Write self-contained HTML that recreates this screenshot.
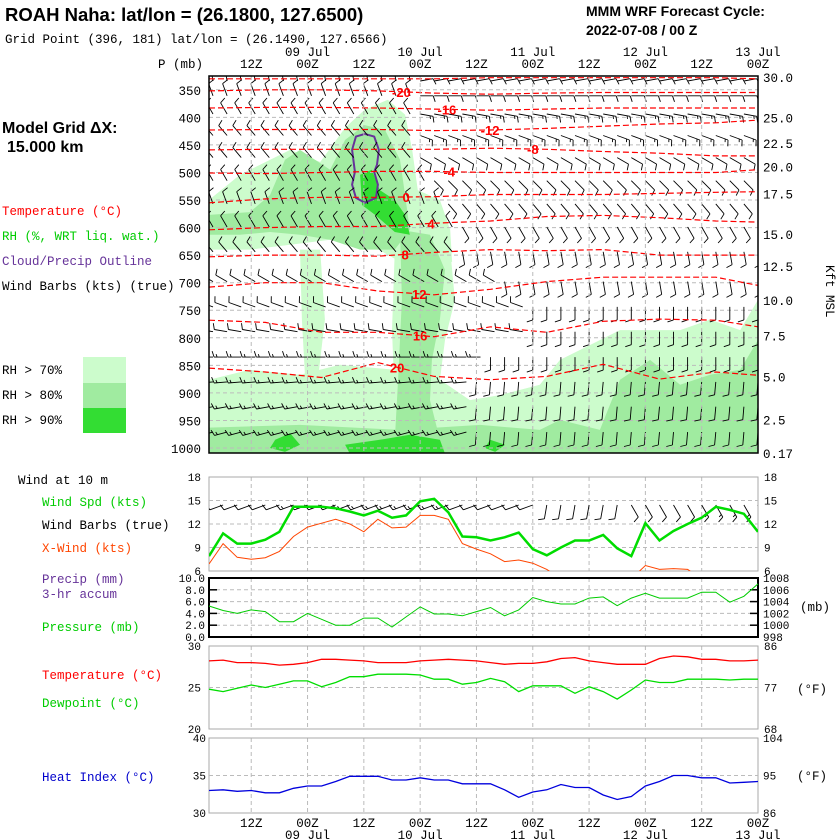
<!DOCTYPE html>
<html><head><meta charset="utf-8">
<style>
html,body{margin:0;padding:0;background:#fff;}
svg{display:block;}
.m{font-family:"Liberation Mono",monospace;font-size:12.5px;}
.s{font-family:"Liberation Sans",sans-serif;}
</style></head>
<body>
<svg id="chart" width="840" height="840" viewBox="0 0 840 840" xmlns="http://www.w3.org/2000/svg">
<rect width="840" height="840" fill="#fff"/>
<text class="s" x="5" y="21" font-size="18.5" font-weight="bold">ROAH Naha:  lat/lon = (26.1800, 127.6500)</text>
<text class="m" x="5" y="43" font-size="12.5">Grid Point (396, 181) lat/lon = (26.1490, 127.6566)</text>
<text class="s" x="586" y="16" font-size="14" font-weight="bold">MMM WRF Forecast Cycle:</text>
<text class="s" x="586" y="35" font-size="14" font-weight="bold">2022-07-08 / 00  Z</text>
<text class="s" x="2" y="133" font-size="16" font-weight="bold">Model Grid ΔX:</text>
<text class="s" x="7" y="152" font-size="16" font-weight="bold">15.000 km</text>
<text class="m" x="2" y="215" fill="#ff0000">Temperature (°C)</text>
<text class="m" x="2" y="240" fill="#00cc00">RH (%, WRT liq. wat.)</text>
<text class="m" x="2" y="265" fill="#663399">Cloud/Precip Outline</text>
<text class="m" x="2" y="290" fill="#000">Wind Barbs (kts) (true)</text>
<text class="m" x="2" y="374">RH &gt; 70%</text>
<text class="m" x="2" y="399">RH &gt; 80%</text>
<text class="m" x="2" y="424">RH &gt; 90%</text>
<rect x="83" y="357" width="43" height="26" fill="#ccfccc"/>
<rect x="83" y="383" width="43" height="25" fill="#a0eba0"/>
<rect x="83" y="408" width="43" height="25" fill="#33dd33"/>
<text class="m" x="158" y="68" font-size="12">P (mb)</text>
<text class="m" x="826" y="265" font-size="11" transform="rotate(90 826 265)">Kft MSL</text>

<text class="m" x="18" y="484" font-size="9.5">Wind at 10 m</text>
<text class="m" x="42" y="506" fill="#00cc00">Wind Spd (kts)</text>
<text class="m" x="42" y="529">Wind Barbs (true)</text>
<text class="m" x="42" y="552" fill="#ff4500">X-Wind (kts)</text>
<text class="m" x="42" y="583" fill="#663399">Precip (mm)</text>
<text class="m" x="42" y="598" fill="#663399">3-hr accum</text>
<text class="m" x="42" y="631" fill="#00cc00">Pressure (mb)</text>
<text class="m" x="42" y="679" fill="#ff0000">Temperature (°C)</text>
<text class="m" x="42" y="707" fill="#00cc00">Dewpoint (°C)</text>
<text class="m" x="42" y="781" fill="#0000cc">Heat Index (°C)</text>
<text class="m" x="800" y="611">(mb)</text>
<text class="m" x="797" y="693">(°F)</text>
<text class="m" x="797" y="780">(°F)</text>
<g id="g"></g>
</svg>
<script>
// ---------- DATA ----------
const hours = [0,3,6,9,12,15,18,21,24,27,30,33,36,39,42,45,48,51,54,57,60,63,66,69,72,75,78,81,84,87,90,93,96,99,102,105,108,111,114,117];
const tickHours = [9,21,33,45,57,69,81,93,105,117];
const tickLabels = ["12Z","00Z","12Z","00Z","12Z","00Z","12Z","00Z","12Z","00Z"];
const dateHours = [21,45,69,93,117];
const dateLabels = ["09 Jul","10 Jul","11 Jul","12 Jul","13 Jul"];
const pLevels = [350,400,450,500,550,600,650,700,750,800,850,900,950,1000];
const kftLabels = ["30.0","25.0","22.5","20.0","17.5","15.0","12.5","10.0","7.5","5.0","2.5","0.17"];
const kftPress = [327,400,447,489,538,612,670,731,796,870,948,1009];

const windSpd = [7.9,10.8,9.5,9.5,10,11,14.2,14.2,14.2,14,13.6,13.1,13.7,12.8,13.1,14.9,15.2,13.5,10.4,10.3,9.9,10.3,10.9,8.8,8,9,9.9,9.9,10.6,8.9,7.9,12.1,9.9,11.1,12,12.8,14.2,13.8,13.3,11];
const crossWind = [6.9,9.5,7.75,7.5,7.7,8.5,10.4,11.6,12.1,12.6,12,11,12.6,11.5,11.6,13.1,13.1,12.6,9.5,8.8,8.2,7.2,7.4,7.0,6.2,5,4.5,4,4,4,5,6.7,6.2,6.3,6.2,5,4,4.5,4,4];
const sfcDir = [250,250,250,250,250,250,250,250,250,250,250,250,250,250,250,250,250,250,250,250,250,250,250,250,190,190,190,190,190,190,150,150,150,150,150,150,150,150,150,150];
const slp = [1003.25,1002.5,1002.0,1002.6,1002.3,1000.6,1000.6,1002.0,1001.0,1000.0,1000.0,1001.2,1001.2,999.7,1001.4,1003.1,1001.9,1001.9,1001.6,1002.3,1003.0,1001.6,1002.6,1004.7,1004.0,1003.6,1003.6,1004.6,1004.8,1003.3,1004.6,1005.4,1004.6,1004.6,1004.6,1005.6,1005.6,1003.9,1004.9,1007.0];
const tempC = [28.2,28.3,28.0,28.0,27.9,27.7,27.8,28.0,28.4,28.4,28.3,28.2,28.0,28.0,28.0,28.2,28.3,28.4,28.3,28.2,28.0,27.8,27.9,27.9,28.1,28.5,28.6,28.2,28.0,27.8,27.8,27.8,28.5,28.8,28.7,28.4,28.4,28.2,28.2,28.3];
const dewC = [24.8,24.5,24.9,25.3,25.0,25.4,25.8,25.8,25.1,25.6,26.3,26.3,26.6,26.6,26.6,26.5,26.0,26.0,25.4,25.6,26.1,25.7,24.5,25.2,25.2,25.2,24.3,25.1,24.5,23.6,24.7,25.9,25.6,25.6,26.0,26.0,26.0,25.9,26.0,26.0];
const heatIdx = [33.0,33.1,32.9,33.0,32.7,32.7,33.3,33.6,33.6,34.2,34.9,34.9,34.9,34.4,34.4,34.7,34.4,34.4,33.9,33.9,33.9,33.1,32.1,32.8,33.1,33.8,33.4,33.4,32.4,31.8,32.2,33.6,34.2,35.0,35.0,34.7,34.7,34.0,34.1,34.2];

// isotherms (deg C) : pressure at anchor hours
const isoHours = [0,12,24,36,48,60,72,84,96,108,117];
const isoValues = [-24,-20,-16,-12,-8,-4,0,4,8,12,16,20];
const isoP = [
 [330,330,330,330,330,328,328,328,328,328,330],
 [352,350,350,352,356,358,356,355,355,355,355],
 [383,382,382,383,385,387,385,383,383,383,383],
 [423,422,422,422,424,423,420,416,412,410,405],
 [459,458,458,458,458,456,458,462,465,470,470],
 [501,502,500,498,498,500,500,500,500,500,495],
 [555,548,545,545,544,540,540,540,538,536,535],
 [604,600,598,598,592,588,580,578,582,588,590],
 [653,650,650,652,645,640,642,640,650,650,650],
 [708,700,700,715,722,712,698,690,690,690,705],
 [768,772,790,790,798,780,790,770,766,768,780],
 [855,862,872,845,870,876,870,848,875,862,868]];
const isoLabelH = [null,41,50.7,59.9,69,51.2,42,47.3,41.8,44.8,45,40.1];

// RH regions [hour, pressure]
const rh70 = [
 [[0,550],[6.6,504],[17.3,459],[23.7,481],[29,419],[33.2,386],[38.1,368],[41.8,395],[43.3,459],[44.5,532],[49.2,550],[51.4,604],[51.8,662],[48.2,677],[40.7,662],[34.3,631],[25.8,622],[17.3,631],[8.7,640],[0,640]],
 [[39.6,640],[51.4,640],[52.4,731],[50.3,804],[49.2,876],[51.4,913],[39.6,913],[39,786]],
 [[19.4,640],[23.7,640],[24.7,767],[23.2,876],[20.5,876],[19.8,767]],
 [[0,876],[8.7,858],[19.4,867],[27.9,849],[39.6,858],[49.2,876],[55.6,913],[62,904],[70.5,885],[74.8,840],[81.2,813],[87.6,786],[94,786],[100.4,786],[106.8,767],[113.2,786],[117,731],[117,1010],[0,1010]]];
const rh80 = [
 [[0,577],[8.7,572],[13,541],[16.2,477],[19.4,459],[25.8,495],[29,441],[33.2,414],[37.5,423],[40.7,477],[41.8,541],[42.8,604],[39.6,640],[32.2,640],[25.8,622],[19.4,613],[13,608],[6.6,613],[0,613]],
 [[40.7,604],[47.1,613],[50.3,677],[49.2,767],[47.5,840],[47.1,913],[49.2,985],[39.6,985],[40.3,876],[41.1,731]],
 [[0,963],[19.4,958],[40.7,967],[57.8,958],[70.5,967],[74.8,949],[83.3,967],[87.6,876],[94,840],[100.4,885],[106.8,867],[113.2,858],[117,804],[117,1010],[0,1010]]];
const rh90 = [
 [[32.2,504],[34.7,495],[36.4,532],[39.6,550],[41.8,577],[42.8,613],[39.6,608],[35.4,577],[32.6,559]],
 [[14.1,985],[17.3,973],[19.4,994],[16.2,1007],[13,1000]],
 [[29,994],[36.4,985],[42.8,976],[49.2,985],[50.3,1010],[30,1010]],
 [[59.9,985],[63.1,994],[61,1007],[58.8,1000]]];
const cloudOutline = [[33.2,430],[35.2,435],[36.2,459],[35.8,486],[35.2,499],[36,522],[35.6,546],[33.2,555],[31.3,546],[30.5,522],[31.1,499],[30.9,486],[30.5,459],[31.3,435]];

// upper-air wind barbs by row
const barbP = [334,361,394,433,473,515,557,599,644,698,744,789,835,880,925,971];
const dirLeft = [350,340,330,320,320,330,340,330,320,300,290,280,270,265,260,255];
const spdLeft = [10,10,10,10,10,10,10,10,10,10,10,10,15,15,15,15];
const dirRight = [80,90,100,110,120,135,140,150,170,170,180,180,180,185,185,185];
const spdRight = [10,10,15,15,10,10,10,10,10,10,10,10,10,10,10,10];
const transH = [45,45,45,45,45,48,50,52,53,62,68,68,58,57,57,57];

// ---------- SCALES ----------
const X0=209, X1=758;
const xOf = h => X0 + h*(X1-X0)/117;
const pY = p => 76 + (p-325)*(377/684);
const wY = v => 477 + (18-v)*(94/12);
const slpY = p => 578 + (1008-p)*(59/10);
const tY = t => 646 + (30-t)*8.3;
const hiY = v => 738 + (40-v)*7.5;

const NS="http://www.w3.org/2000/svg";
const G=document.getElementById('g');
function mk(tag, attrs, parent){const e=document.createElementNS(NS,tag);for(const k in attrs)e.setAttribute(k,attrs[k]);(parent||G).appendChild(e);return e;}
function txt(x,y,s,anchor,size,fill){const e=mk('text',{x:x,y:y,'text-anchor':anchor||'start','font-family':'"Liberation Mono",monospace','font-size':size||12,fill:fill||'#000'});e.textContent=s;return e;}

const defs=mk('defs',{});
const cp=mk('clipPath',{id:'mainclip'},defs);
mk('rect',{x:X0,y:76,width:X1-X0,height:377},cp);
const cp2=mk('clipPath',{id:'windclip'},defs);
mk('rect',{x:X0,y:477,width:X1-X0,height:94},cp2);

const mainG=mk('g',{'clip-path':'url(#mainclip)'});



function polyPts(arr){return arr.map(q=>xOf(q[0]).toFixed(1)+','+pY(q[1]).toFixed(1)).join(' ');}
rh70.forEach(poly=>{const e=mk('polygon',{points:polyPts(poly),fill:'#ccfccc'},mainG);

});
rh80.forEach(poly=>{const e=mk('polygon',{points:polyPts(poly),fill:'#a0eba0'},mainG);

});
rh90.forEach(poly=>{const e=mk('polygon',{points:polyPts(poly),fill:'#33dd33'},mainG);

});

pLevels.forEach(p=>{const e=mk('line',{x1:X0,x2:X1,y1:pY(p),y2:pY(p),stroke:'#bbb','stroke-dasharray':'4,3'},mainG);

});
tickHours.forEach(h=>{[[76,453],[477,571],[578,637],[646,729],[738,813]].forEach(r=>{const e=mk('line',{x1:xOf(h),x2:xOf(h),y1:r[0],y2:r[1],stroke:'#bbb','stroke-dasharray':'4,3'});

});});

const co=mk('polygon',{points:polyPts(cloudOutline),fill:'none',stroke:'#663399','stroke-width':2,'stroke-linejoin':'round'},mainG);



function barb(parent,x,y,dir,spd,L){
  const r=dir*Math.PI/180, dx=Math.sin(r), dy=-Math.cos(r);
  const bx=Math.cos(r), by=Math.sin(r);
  const ex=x+L*dx, ey=y+L*dy;
  let d='M'+x.toFixed(1)+' '+y.toFixed(1)+'L'+ex.toFixed(1)+' '+ey.toFixed(1);
  let s=Math.round(spd/5)*5, pos=0;
  while(s>=10){const sx=ex-pos*dx, sy=ey-pos*dy;
    d+='M'+sx.toFixed(1)+' '+sy.toFixed(1)+'L'+(sx+6*bx+2*dx).toFixed(1)+' '+(sy+6*by+2*dy).toFixed(1);
    s-=10;pos+=3;}
  if(s>=5){if(pos===0)pos=3;const sx=ex-pos*dx, sy=ey-pos*dy;
    d+='M'+sx.toFixed(1)+' '+sy.toFixed(1)+'L'+(sx+3*bx+1*dx).toFixed(1)+' '+(sy+3*by+1*dy).toFixed(1);}
  return mk('path',{d:d,stroke:'#000','stroke-width':0.9,fill:'none'},parent);
}
barbP.forEach((p,k)=>{hours.forEach(h=>{
  const left=h<transH[k];
  const e=barb(mainG,xOf(h)+(left?4:0),pY(p),left?dirLeft[k]:dirRight[k],left?spdLeft[k]:spdRight[k],13);
  
  
});});

function isoInterp(k,h){for(let i=0;i<isoHours.length-1;i++){if(h<=isoHours[i+1]){const f=(h-isoHours[i])/(isoHours[i+1]-isoHours[i]);return isoP[k][i]+f*(isoP[k][i+1]-isoP[k][i]);}}return isoP[k][isoP[k].length-1];}
isoP.forEach((row,k)=>{
  const pts=row.map((p,i)=>xOf(isoHours[i]).toFixed(1)+','+pY(p).toFixed(1)).join(' ');
  const e=mk('polyline',{points:pts,fill:'none',stroke:'#ff0000','stroke-dasharray':'6,3','stroke-width':1.2},mainG);
  
  
  if(isoLabelH[k]!==null){
    const h=isoLabelH[k];
    const t=txt(xOf(h),pY(isoInterp(k,h))+5,String(isoValues[k]),'middle',13,'#ff0000');
    t.setAttribute('font-family','"Liberation Sans",sans-serif');
    t.setAttribute('font-weight','bold');
    
    
  }
});

[[76,453,'#000',1.5,'cross-section-frame'],[477,571,'#aaa',1,'wind-panel-frame'],[578,637,'#000',2,'pressure-panel-frame'],[646,729,'#aaa',1,'temperature-panel-frame'],[738,813,'#aaa',1,'heat-index-panel-frame']].forEach(f=>{
  const e=mk('rect',{x:X0,y:f[0],width:X1-X0,height:f[1]-f[0],fill:'none',stroke:f[2],'stroke-width':f[3]});
  
  
});

pLevels.forEach(p=>{const t=txt(201,pY(p)+5,String(p),'end',12.5);

});
kftLabels.forEach((s,i)=>{const t=txt(763,pY(kftPress[i])+5,s,'start',12.5);

});
tickHours.forEach((h,i)=>{
  const t1=txt(xOf(h),68,tickLabels[i],'middle',12.5);
  
  
  const t2=txt(xOf(h),827,tickLabels[i],'middle',12.5);
  
  
});
dateHours.forEach((h,i)=>{
  const t1=txt(xOf(h),56,dateLabels[i],'middle',12.5);
  
  
  const t2=txt(xOf(h),839,dateLabels[i],'middle',12.5);
  
  
});

const windTicks=[18,15,12,9,6];
windTicks.forEach(v=>{
  if(v<18&&v>6){const e=mk('line',{x1:X0,x2:X1,y1:wY(v),y2:wY(v),stroke:'#bbb','stroke-dasharray':'4,3'});
  
  }
  const a=txt(201,wY(v)+4,String(v),'end',11);
  
  
  const b=txt(764,wY(v)+4,String(v),'start',11);
  
  
});
const windG=mk('g',{'clip-path':'url(#windclip)'});
hours.forEach((h,i)=>{const e=barb(windG,xOf(h),505,sfcDir[i],windSpd[i],14);

});
function series(arr,yf,color,w,name,parent){
  const pts=arr.map((v,i)=>xOf(hours[i]).toFixed(1)+','+yf(v).toFixed(1)).join(' ');
  const e=mk('polyline',{points:pts,fill:'none',stroke:color,'stroke-width':w},parent);
  
  
}
series(crossWind,wY,'#ff4500',1,'x-wind-line',windG);
series(windSpd,wY,'#00dd00',2.5,'wind-speed-line',windG);

const slpTicks=[1008,1006,1004,1002,1000,998];
const precipTicks=["10.0","8.0","6.0","4.0","2.0","0.0"];
slpTicks.forEach((p,i)=>{
  if(p<1008&&p>998){
    const e=mk('line',{x1:X0,x2:X1,y1:slpY(p),y2:slpY(p),stroke:'#bbb','stroke-dasharray':'4,3'});
    
    
    mk('line',{x1:X0,x2:X0+8,y1:slpY(p),y2:slpY(p),stroke:'#000','stroke-width':1.5});
    mk('line',{x1:X1-8,x2:X1,y1:slpY(p),y2:slpY(p),stroke:'#000','stroke-width':1.5});
  }
  const a=txt(205,slpY(p)+4,precipTicks[i],'end',11);
  
  
  const b=txt(763,slpY(p)+4,String(p),'start',11);
  
  
});
series(slp,slpY,'#00cc00',1,'pressure-line');

const tTicksC=[30,25,20], tTicksF=[86,77,68];
tTicksC.forEach((t,i)=>{
  if(t===25){const e=mk('line',{x1:X0,x2:X1,y1:tY(t),y2:tY(t),stroke:'#bbb','stroke-dasharray':'4,3'});
  
  }
  const a=txt(201,tY(t)+4,String(t),'end',11);
  
  
  const b=txt(764,tY(t)+4,String(tTicksF[i]),'start',11);
  
  
});
series(tempC,tY,'#ff0000',1.3,'temperature-line');
series(dewC,tY,'#00dd00',1.3,'dewpoint-line');

const hiTicksC=[40,35,30], hiTicksF=[104,95,86];
hiTicksC.forEach((t,i)=>{
  if(t===35){const e=mk('line',{x1:X0,x2:X1,y1:hiY(t),y2:hiY(t),stroke:'#bbb','stroke-dasharray':'4,3'});
  
  }
  const a=txt(206,hiY(t)+4,String(t),'end',11);
  
  
  const b=txt(763,hiY(t)+4,String(hiTicksF[i]),'start',11);
  
  
});
series(heatIdx,hiY,'#0000dd',1.3,'heat-index-line');
</script>
</body></html>
